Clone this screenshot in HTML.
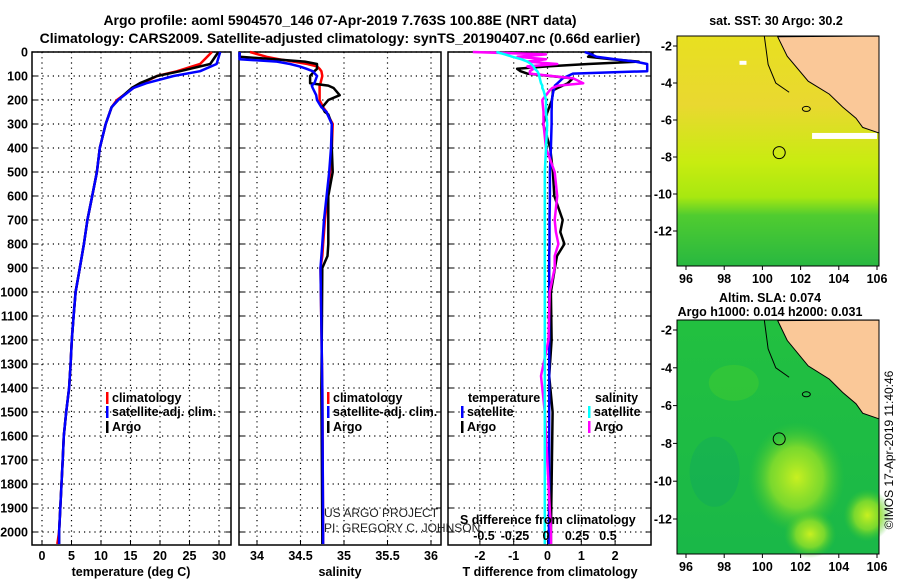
<!DOCTYPE html>
<html><head><meta charset="utf-8"><style>
body{margin:0;background:#fff;}
svg{display:block;font-family:"Liberation Sans",sans-serif;}
.b{font-weight:bold;font-size:12.5px;}
.t{font-weight:bold;font-size:14px;}
</style></head><body>
<svg id="c" width="900" height="580" viewBox="0 0 900 580">
<text class="t" x="340" y="25" text-anchor="middle">Argo profile: aoml 5904570_146 07-Apr-2019 7.763S 100.88E (NRT data)</text>
<text class="t" x="340" y="43" text-anchor="middle">Climatology: CARS2009. Satellite-adjusted climatology: synTS_20190407.nc (0.66d earlier)</text>
<g id="plots"></g>
<g id="maps"></g>
<text x="893" y="450" font-size="12" text-anchor="middle" transform="rotate(-90 893 450)">©IMOS 17-Apr-2019 11:40:46</text>
</svg>
<script>
const depthTicks=[0,100,200,300,400,500,600,700,800,900,1000,1100,1200,1300,1400,1500,1600,1700,1800,1900,2000];
const tempTicks=[0,5,10,15,20,25,30];
const salTicks=[34,34.5,35,35.5,36];
const salTickLabels=["34","34.5","35","35.5","36"];
const tdTicks=[-2,-1,0,1,2];
const sdTicks=[-0.5,-0.25,0,0.25,0.5];
const sdTickLabels=["-0.5","-0.25","0","0.25","0.5"];
// temperature profiles
const tDepth=[0,50,80,100,130,150,200,230,300,400,500,600,700,800,900,1000,1100,1200,1300,1400,1500,1600,1700,1800,1900,2000,2050];
const tClim=[28.8,26.8,22.9,19.5,17.0,15.5,12.7,11.8,10.8,9.8,9.3,8.5,7.7,7.1,6.4,5.7,5.35,5.05,4.85,4.6,4.1,3.7,3.5,3.3,3.1,2.9,2.6];
const tSat=[30.2,29.6,26.8,22.3,17.7,15.5,12.9,11.8,10.8,9.8,9.3,8.5,7.7,7.1,6.4,5.7,5.35,5.05,4.85,4.6,4.1,3.7,3.5,3.3,3.1,2.9,2.9];
const tArgo=[29.9,28.5,23.4,19.5,16.6,15.2,12.9,11.8,10.8,9.8,9.3,8.5,7.7,7.1,6.4,5.7,5.35,5.05,4.85,4.6,4.1,3.7,3.5,3.3,3.1,2.9,2.9];
// salinity profiles
const sDepth=[0,20,30,40,50,60,70,80,100,130,140,150,180,200,230,250,260,300,400,500,600,700,800,850,900,1400,2000,2050];
const sClim=[33.92,34.11,34.25,34.42,34.58,34.69,34.72,34.74,34.75,34.73,34.72,34.72,34.72,34.72,34.76,34.8,34.81,34.87,34.86,34.84,34.81,34.78,34.76,34.75,34.73,34.75,34.76,34.76];
const sSat=[33.8,33.8,33.8,34.23,34.38,34.49,34.57,34.64,34.69,34.66,34.63,34.64,34.68,34.69,34.74,34.8,34.81,34.86,34.85,34.83,34.8,34.77,34.75,34.74,34.73,34.75,34.76,34.76];
const sArgo=[33.8,33.8,34.2,34.55,34.69,34.69,34.69,34.66,34.61,34.61,34.82,34.88,34.95,34.82,34.75,34.78,34.82,34.86,34.86,34.87,34.82,34.82,34.82,34.81,34.75,34.74,34.75,34.75];
// difference profiles
const dDepth=[0,10,20,30,40,50,60,70,80,90,110,130,140,150,160,180,200,250,300,400,500,600,700,750,800,850,900,1000,1200,1350,1500,1800,2000,2050];
const dtSat=[1.1,1.3,1.45,2.0,2.6,2.95,2.95,2.95,2.95,0.75,0.45,0.3,0.22,0.2,0.18,0.15,0.13,0.12,0.12,0.1,0.07,0.07,0.06,0.06,0.06,0.05,0.05,0.05,0.05,0.05,0.05,0.05,0.04,0.04];
const dtArgo=[1.35,1.3,1.2,1.9,2.7,1.2,0.0,-0.9,-0.8,-0.6,0.75,0.6,0.45,0.3,0.16,0.15,0.13,0.0,-0.13,0.08,0.16,0.2,0.45,0.38,0.5,0.28,0.22,0.1,0.12,0.05,0.15,0.12,0.1,0.1];
const dsArgo=[-0.59,0.0,-0.23,0.0,-0.15,0.09,-0.15,-0.1,-0.13,-0.13,0.22,0.3,0.1,0.05,0.03,0.0,-0.03,-0.02,-0.02,0.0,0.07,0.09,0.07,0.08,0.1,0.07,0.07,0.03,0.02,-0.04,-0.01,0.02,0.04,0.04];
const dsSat=[-0.4,-0.33,-0.27,-0.2,-0.15,-0.12,-0.1,-0.09,-0.07,-0.06,-0.05,-0.04,-0.03,-0.03,-0.02,-0.01,0.0,0.0,0.01,0.0,-0.01,-0.01,-0.01,-0.01,-0.01,-0.01,-0.01,-0.01,-0.01,-0.01,-0.01,-0.01,-0.01,-0.01];

const NS="http://www.w3.org/2000/svg";
const root=document.getElementById('plots');
function mk(tag,attrs,parent,text){const e=document.createElementNS(NS,tag);for(const k in attrs)e.setAttribute(k,attrs[k]);if(text!==undefined)e.textContent=text;(parent||root).appendChild(e);return e;}
const Y0=52,YB=545;
function yD(d){return Y0+d*0.24;}
const panels=[
 {x0:32,x1:231,name:'temperature-panel',ax:v=>42+v*5.9},
 {x0:239,x1:441,name:'salinity-panel',ax:v=>257+(v-34)*87},
 {x0:448,x1:651,name:'difference-panel',ax:v=>547.5+v*33.8,ax2:v=>546+v*124}
];
function line(xs,ds,fx,color,name,p,w){
  const pts=xs.map((v,i)=>Math.max(p.x0,Math.min(p.x1,fx(v))).toFixed(1)+','+yD(ds[i]).toFixed(1)).join(' ');
  const e=mk('polyline',{points:pts,fill:'none',stroke:color,'stroke-width':w||2.5,'stroke-linejoin':'round'});
  
  
}
panels.forEach((p,pi)=>{
  const g=mk('g',{});
  
  
  depthTicks.forEach(d=>{
    const l=mk('line',{x1:p.x0,x2:p.x1,y1:yD(d),y2:yD(d),stroke:'#000','stroke-width':1.2,'stroke-dasharray':'1.2 4'},g);
    
    
    mk('line',{x1:p.x0,x2:p.x0+5,y1:yD(d),y2:yD(d),stroke:'#000'},g);
    mk('line',{x1:p.x1-5,x2:p.x1,y1:yD(d),y2:yD(d),stroke:'#000'},g);
    if(pi===0){
      const t=mk('text',{x:p.x0-4,y:yD(d)+4.5,'text-anchor':'end',class:'b'},g,String(d));
      
      
    }
  });
  let ticks,labels;
  if(pi===0){ticks=tempTicks;labels=tempTicks.map(String);}
  else if(pi===1){ticks=salTicks;labels=salTickLabels;}
  else {ticks=tdTicks;labels=tdTicks.map(String);}
  ticks.forEach((v,i)=>{
    const x=p.ax(v);
    const l=mk('line',{x1:x,x2:x,y1:Y0,y2:YB,stroke:'#000','stroke-width':1.2,'stroke-dasharray':'1.2 4'},g);
    
    
    mk('line',{x1:x,x2:x,y1:YB-5,y2:YB,stroke:'#000'},g);
    const t=mk('text',{x:x,y:560,'text-anchor':'middle',class:'b'},g,labels[i]);
    
    
  });
  const fr=mk('rect',{x:p.x0,y:Y0,width:p.x1-p.x0,height:YB-Y0,fill:'none',stroke:'#000','stroke-width':1.5},g);
  
  
});
const P=panels;
line(tClim,tDepth,P[0].ax,'#f00','temperature-climatology-line',P[0]);
line(tArgo,tDepth,P[0].ax,'#000','temperature-argo-line',P[0]);
line(tSat,tDepth,P[0].ax,'#00f','temperature-satellite-line',P[0]);
line(sClim,sDepth,P[1].ax,'#f00','salinity-climatology-line',P[1]);
line(sArgo,sDepth,P[1].ax,'#000','salinity-argo-line',P[1]);
line(sSat,sDepth,P[1].ax,'#00f','salinity-satellite-line',P[1]);
line(dtArgo,dDepth,P[2].ax,'#000','t-diff-argo-line',P[2]);
line(dtSat,dDepth,P[2].ax,'#00f','t-diff-satellite-line',P[2]);
line(dsArgo,dDepth,P[2].ax2,'#f0f','s-diff-argo-line',P[2]);
line(dsSat,dDepth,P[2].ax2,'#0ff','s-diff-satellite-line',P[2]);
sdTicks.forEach((v,i)=>{
  const t=mk('text',{x:P[2].ax2(v),y:540,'text-anchor':'middle',class:'b'},root,sdTickLabels[i]);
  
  
});
function txt(x,y,s,name,cls,anchor,extra){const t=mk('text',Object.assign({x:x,y:y,class:cls||'b','text-anchor':anchor||'start'},extra||{}),root,s);return t;}
txt(460,524,'S difference from climatology','s-diff-axis-title');
txt(131,576,'temperature (deg C)','temperature-axis-title','b','middle');
txt(340,576,'salinity','salinity-axis-title','b','middle');
txt(550,576,'T difference from climatology','t-diff-axis-title','b','middle');
txt(324,517,'US ARGO PROJECT','project-credit',' ','start',{'font-size':12,fill:'#222'});
txt(324,532,'PI: GREGORY C. JOHNSON','pi-credit',' ','start',{'font-size':12,fill:'#222'});
function leg(x,y,color,label,name){
  const r=mk('rect',{x:x,y:y-10,width:2.5,height:12,fill:color});
  
  
  if(label) txt(x+6,y,label,name);
}
leg(106,402,'#f00','climatology','legend-temp-climatology');
leg(106,416,'#00f','satellite-adj. clim.','legend-temp-satellite');
leg(106,431,'#000','Argo','legend-temp-argo');
leg(327,402,'#f00','climatology','legend-sal-climatology');
leg(327,416,'#00f','satellite-adj. clim.','legend-sal-satellite');
leg(327,431,'#000','Argo','legend-sal-argo');
txt(468,402,'temperature','legend-diff-temperature-header');
leg(461,416,'#00f','satellite','legend-tdiff-satellite');
leg(461,431,'#000','Argo','legend-tdiff-argo');
txt(595,402,'salinity','legend-diff-salinity-header');
leg(588,416,'#0ff','satellite','legend-sdiff-satellite');
leg(588,431,'#f0f','Argo','legend-sdiff-argo');

// maps
const mapG=document.getElementById('maps');
const lonTicks=[96,98,100,102,104,106];
const latTicks=[-2,-4,-6,-8,-10,-12];
const coastLon=[100.8,101.3,102.4,103.5,104.2,104.9,105.25,106.1];
const coastLat=[-1.5,-2.55,-3.9,-4.6,-5.3,-5.9,-6.4,-6.7];
const argoLon=[100.88], argoLat=[-7.763];
function mapPanel(y0,y1,kind){
  const x0=677,x1=879;
  const fx=l=>686+(l-96)*19.1;
  const latTop=y0+10, k=(y1-y0-45)/10;
  const fy=la=>latTop+(-2-la)*k;
  const g=document.createElementNS(NS,'g');mapG.appendChild(g);
  
  
  const defs=mk('defs',{},g);
  const id=kind+'grad';
  const lg=mk('linearGradient',{id:id,x1:0,y1:0,x2:0,y2:1},defs);
  const stops=kind==='sst'?[[0,'#e8e020'],[0.3,'#e9d830'],[0.55,'#c8ec10'],[0.7,'#a8e810'],[0.78,'#50cc30'],[1,'#28b840']]:[[0,'#22c040'],[1,'#1ab848']];
  stops.forEach(s=>mk('stop',{offset:s[0],'stop-color':s[1]},lg));
  mk('rect',{x:x0,y:y0,width:x1-x0,height:y1-y0,fill:'url(#'+id+')'},g);
  if(kind==='sla'){
    const rg=mk('radialGradient',{id:'blob'},defs);
    mk('stop',{offset:0,'stop-color':'#c8f020'},rg);mk('stop',{offset:0.55,'stop-color':'#90e028','stop-opacity':0.8},rg);mk('stop',{offset:1,'stop-color':'#40c830','stop-opacity':0},rg);
    mk('ellipse',{cx:fx(101.8),cy:fy(-9.8),rx:48,ry:55,fill:'url(#blob)'},g);
    mk('ellipse',{cx:fx(102.5),cy:fy(-12.8),rx:26,ry:24,fill:'url(#blob)'},g);
    mk('ellipse',{cx:fx(105.5),cy:fy(-11.8),rx:24,ry:26,fill:'url(#blob)'},g);
    mk('ellipse',{cx:fx(98.5),cy:fy(-4.8),rx:25,ry:18,fill:'#40cc30',opacity:0.5},g);
    mk('ellipse',{cx:fx(97.5),cy:fy(-9.5),rx:25,ry:35,fill:'#10a860',opacity:0.4},g);
  } else {
    mk('rect',{x:fx(102.6),y:fy(-6.7),width:fx(106)-fx(102.6),height:6,fill:'#fff'},g);
    mk('rect',{x:fx(98.8),y:fy(-2.8),width:7,height:4,fill:'#fff'},g);
  }
  const pts=coastLon.map((l,i)=>fx(l).toFixed(1)+','+Math.max(y0,fy(coastLat[i])).toFixed(1));
  const land=mk('polygon',{points:pts.join(' ')+' '+x1+','+fy(-6.7)+' '+x1+','+y0,fill:'#fac898',stroke:'#000','stroke-width':1},g);
  
  
  mk('polyline',{points:fx(100.1)+','+y0+' '+fx(100.3)+','+fy(-3)+' '+fx(100.7)+','+fy(-4)+' '+fx(101.4)+','+fy(-4.5),fill:'none',stroke:'#000'},g);
  mk('ellipse',{cx:fx(102.3),cy:fy(-5.4),rx:4,ry:2.5,fill:'none',stroke:'#000'},g);
  const c=mk('circle',{cx:fx(argoLon[0]),cy:fy(argoLat[0]),r:6,fill:'none',stroke:'#000','stroke-width':1},g);
  
  
  mk('rect',{x:x0,y:y0,width:x1-x0,height:y1-y0,fill:'none',stroke:'#000'},g);
  latTicks.forEach(la=>{
    mk('line',{x1:x0-4,x2:x0,y1:fy(la),y2:fy(la),stroke:'#000'},g);
    const t=mk('text',{x:x0-5,y:fy(la)+4.5,'text-anchor':'end',class:'b'},g,String(la));
    
    
  });
  lonTicks.forEach(lo=>{
    mk('line',{x1:fx(lo),x2:fx(lo),y1:y1,y2:y1+4,stroke:'#000'},g);
    const t=mk('text',{x:fx(lo),y:y1+17,'text-anchor':'middle',class:'b'},g,String(lo));
    
    
  });
}
mapPanel(36,266,'sst');
mapPanel(320,554,'sla');
txt(776,25,'sat. SST: 30 Argo: 30.2','sst-map-title','b','middle');
txt(770,302,'Altim. SLA: 0.074','sla-map-title','b','middle');
txt(770,316,'Argo h1000: 0.014 h2000: 0.031','sla-argo-heights','b','middle');
</script>
</body></html>
